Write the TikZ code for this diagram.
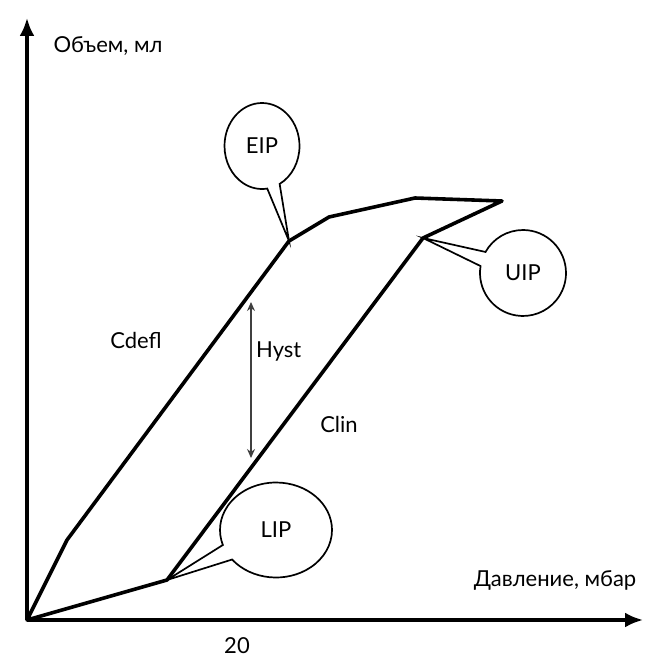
\documentclass[tikz,border=0pt]{standalone}
\usepackage{fontspec}
\setmainfont{Lato}
\usetikzlibrary{arrows.meta,shapes.callouts}

\begin{document}
\begin{tikzpicture}[x=1pt,y=-1pt,
    axis/.style={line width=3.4pt,-{Latex[length=18pt,width=15pt]}},
    loopline/.style={line width=3.6pt,line join=round},
    hyst/.style={line width=1.3pt,black!75,{Stealth[length=9pt,width=8pt]}-{Stealth[length=9pt,width=8pt]}},
    bubble/.style={ellipse callout,draw,fill=white,line width=1.7pt,inner sep=0pt,
      callout pointer arc=20,font=\fontsize{22}{26}\selectfont},
    lbl/.style={font=\fontsize{22}{26}\selectfont,inner sep=0pt}
  ]
  \useasboundingbox (0,0) rectangle (646,668);
  % axes
  \coordinate (o) at (27,620);
  \coordinate (ytip) at (27,18);
  \coordinate (xtip) at (643,620);
  \draw[axis] (o) -- (ytip);
  \draw[axis] (o) -- (xtip);
  \node[lbl] (vol) at (108,46) {Объем, мл};
  \node[lbl] (pres) at (555,580) {Давление, мбар};
  \node[lbl] (twenty) at (237,646) {20};
  % hysteresis loop
  \coordinate (lip) at (167,580);
  \coordinate (uip) at (423,238);
  \coordinate (tip) at (502,201);
  \coordinate (top) at (415,198);
  \coordinate (bend) at (329,217);
  \coordinate (eip) at (289,241);
  \coordinate (knee) at (67,540);
  \draw[loopline] (o) -- (lip) -- (uip) -- (tip) -- (top) -- (bend) -- (eip) -- (knee) -- cycle;
  % hysteresis width
  \coordinate (hup) at (251,302);
  \coordinate (hdn) at (251,458);
  \draw[hyst] (hup) -- (hdn);
  \node[lbl,anchor=west] (hystlbl) at (256,352) {Hyst};
  \node[lbl] (clin) at (339,424) {Clin};
  \node[lbl] (cdefl) at (136,340) {Cdefl};
  % callouts
  \node[bubble,minimum width=75pt,minimum height=86pt,callout absolute pointer={(eip)}] (eipbox) at (262,146) {EIP};
  \node[bubble,minimum width=86pt,minimum height=86pt,callout absolute pointer={(uip)}] (uipbox) at (523,273) {UIP};
  \node[bubble,minimum width=112pt,minimum height=95pt,callout absolute pointer={(lip)}] (lipbox) at (276,530) {LIP};
\end{tikzpicture}
\end{document}
